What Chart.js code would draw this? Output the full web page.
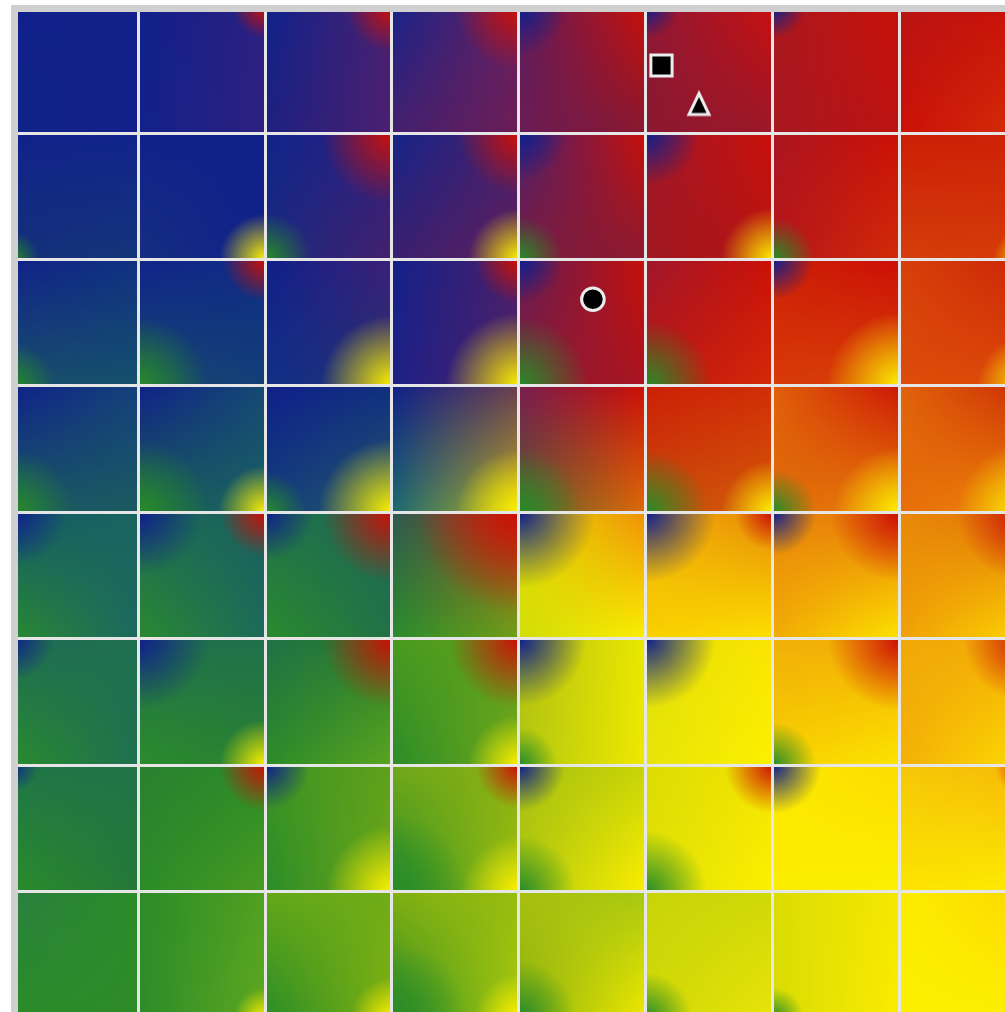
<!DOCTYPE html>
<html>
<head>
<meta charset="utf-8">
<style>
  html, body { margin: 0; padding: 0; background: #fff; overflow: hidden; }
  canvas { display: block; }
</style>
<script src="https://cdn.jsdelivr.net/npm/chart.js@4"></script>
</head>
<body>
<canvas id="chart" width="1005" height="1012"></canvas>
<script>
// colour of each tile at its four corners, one string per row of tiles
const cornerTL = [
  '10208a 10208a 10228a 1a2388 5a1c60 8c1838 a81820 b81414',
  '10228a 10218a 102488 162488 4a2070 a0182c aa1620 cc1e06',
  '10228a 10258a 102088 14208a 601c58 a0182c cc2006 d6400a',
  '10228a 10228a 10208a 10208a 7a1c50 cc2006 e0600a e0640a',
  '145a68 1c6a56 20704c 2a5a50 e8e000 f0b008 e8860a e88808',
  '1e6a55 20704c 227048 4a9a20 b8c010 e0e008 f0b008 f0a808',
  '1f7448 2a8030 3c9424 70a81a a8c010 dcdc04 fce800 f4c808',
  '2a8040 2c8c28 64a818 80b010 a8c010 c8d408 dcdc04 fcec00'
];
const cornerTR = [
  '14208a 2c2080 4a2070 6a2060 c81008 c81010 c81008 cc1006',
  '10248a 10228a 302080 4a206a c81008 c81008 cc1006 cc2206',
  '103280 102c84 3c2078 4a2068 c81008 cc1006 cc1006 cc2406',
  '14427a 154a72 103080 6a4050 cc1006 d02e06 cc1806 cc2c06',
  '1a6460 1a6060 1e6a55 a84a18 f09008 e88a08 e87808 e07008',
  '1f7050 20704c 2a8028 60a01a e8e800 fce400 f4ac04 f4aa06',
  '207448 2a8c28 60a01a 8ab010 c8d408 f4e400 fcdc00 f8b808',
  '2a8c28 50a020 70ac18 98bc10 a8c810 d0d808 f4e800 fcd800'
];
const cornerBL = [
  '102488 12228a 1e2080 44206f 6a1c55 8c1830 a81820 cc1008',
  '14307a 152f80 1a2a80 3a206f 7a1c40 a01820 b8141a d43e0a',
  '1a4f6a 16476e 103088 1e2085 8a1c38 be1410 d83a08 dc4c0a',
  '1a5a62 1a6055 12407a 1a6a70 5a6030 c84c0c e06c0a e86e0a',
  '2a8a30 2a8a30 2a8c2c 2a8c2c d0dc08 f8d000 f2aa06 f0a008',
  '2a8c2c 2a8c2c 2a8c28 2a8c28 b0c810 e8e408 f8d000 f4b008',
  '2a8c2a 2a8c28 2a8c28 2a8c28 b0c810 e0e008 fcec00 fce400',
  '2a8c28 2a8c28 2a8c28 308c28 8ab010 d0d808 d8dc04 fcf000'
];
const cornerBR = [
  '14208a 2e2080 4c2070 6c1d55 881830 9a1828 bc1212 d43008',
  '14357a 10208a 44206c 5e1e5c 8c1a30 b41414 d02c08 d63a08',
  '14506c 123f78 283070 4e206a a81420 d42a08 d84008 dc4a08',
  '1a5a60 186062 285868 c0b020 e06a08 d45a08 e88008 ec8a08',
  '1c6860 1c6a5a 227048 70a018 fcf000 fce000 fce400 fcd800',
  '1e7050 2a8030 5ca420 70a81a f0e800 fcf000 fce400 fcdc00',
  '247838 4a9a20 70a818 a0c010 fcee00 fcf000 fcf000 fcec00',
  '2e8c28 60a820 80b010 a8c80c f0e800 e8e408 fcec00 fcf000'
];

// how far each corner colour reaches into the tile, percent of the tile side
const blueReach = [
  [0, 0, 0, 0, 38, 25, 25, 0],
  [0, 0, 0, 0, 38, 42, 0, 0],
  [0, 0, 0, 0, 34, 0, 32, 0],
  [0, 0, 0, 0, 0, 0, 0, 0],
  [43, 50, 38, 0, 60, 55, 34, 0],
  [33, 56, 0, 0, 53, 55, 0, 0],
  [21, 0, 35, 0, 36, 0, 38, 0],
  [0, 0, 0, 0, 0, 0, 0, 0]
];
const redReach = [
  [0, 25, 36, 50, 0, 0, 0, 0],
  [0, 0, 56, 48, 0, 0, 0, 0],
  [0, 33, 0, 35, 0, 0, 0, 0],
  [0, 0, 0, 0, 0, 0, 0, 0],
  [0, 35, 55, 80, 0, 30, 55, 55],
  [0, 0, 55, 55, 0, 0, 57, 50],
  [0, 36, 0, 34, 0, 38, 0, 25],
  [0, 0, 0, 0, 0, 0, 0, 0]
];
const greenReach = [
  [0, 0, 0, 0, 0, 0, 0, 0],
  [22, 0, 37, 0, 34, 0, 33, 0],
  [34, 55, 0, 0, 55, 52, 0, 0],
  [49, 56, 32, 0, 50, 49, 34, 0],
  [0, 0, 0, 0, 0, 0, 0, 0],
  [0, 0, 0, 0, 30, 0, 34, 0],
  [0, 0, 0, 60, 45, 48, 0, 0],
  [0, 0, 0, 60, 45, 36, 24, 0]
];
const yellowReach = [
  [0, 0, 0, 0, 0, 0, 0, 0],
  [0, 36, 0, 40, 0, 41, 0, 26],
  [0, 0, 56, 58, 0, 0, 58, 39],
  [0, 37, 58, 50, 0, 41, 52, 55],
  [0, 0, 0, 0, 0, 0, 0, 0],
  [0, 36, 0, 40, 0, 0, 0, 0],
  [0, 0, 52, 45, 0, 0, 0, 0],
  [0, 24, 32, 35, 0, 0, 0, 0]
];

const gridLines = [1, 2, 3, 4, 5, 6, 7];
const markerX = [4.582, 5.122, 5.417];
const markerY = [2.315, 0.466, 0.774];

const BLUE = [16, 32, 140], RED = [204, 16, 6], GREEN = [40, 140, 40], YELLOW = [252, 240, 0];

function hexRows(rows) {
  return rows.map(r => r.split(' ').map(h => [0, 2, 4].map(i => parseInt(h.substr(i, 2), 16))));
}
const tl = hexRows(cornerTL), tr = hexRows(cornerTR), bl = hexRows(cornerBL), br = hexRows(cornerBR);

// one canvas per tile, corners mixed then corner colours faded over them
function paintTile(col, row, w, h) {
  const c = document.createElement('canvas');
  c.width = w;
  c.height = h;
  const g = c.getContext('2d');
  const img = g.createImageData(w, h);
  const glows = [
    [BLUE, blueReach[row][col], 0, 0],
    [RED, redReach[row][col], 1, 0],
    [GREEN, greenReach[row][col], 0, 1],
    [YELLOW, yellowReach[row][col], 1, 1]
  ];
  for (let y = 0; y < h; y++) {
    const v = y / (h - 1);
    for (let x = 0; x < w; x++) {
      const u = x / (w - 1);
      const px = [0, 1, 2].map(i =>
        (tl[row][col][i] * (1 - u) + tr[row][col][i] * u) * (1 - v) +
        (bl[row][col][i] * (1 - u) + br[row][col][i] * u) * v);
      glows.forEach(([colour, reach, cx, cy]) => {
        if (!reach) return;
        const d = Math.hypot(u - cx, v - cy) * 100 / reach;
        if (d >= 1) return;
        const a = 1 - d;
        for (let i = 0; i < 3; i++) px[i] = px[i] * (1 - a) + colour[i] * a;
      });
      const o = (y * w + x) * 4;
      img.data[o] = px[0];
      img.data[o + 1] = px[1];
      img.data[o + 2] = px[2];
      img.data[o + 3] = 255;
    }
  }
  g.putImageData(img, 0, 0);
  return c;
}

const tilePoints = [];
for (let row = 0; row < 8; row++) {
  for (let col = 0; col < 8; col++) tilePoints.push({ x: col + 0.5, y: row + 0.5, col, row });
}
const tileCache = new Map();

function tileStyle(ctx) {
  const p = ctx.raw;
  if (!p) return 'rect';
  const key = p.col + '_' + p.row;
  if (!tileCache.has(key)) {
    const { x, y } = ctx.chart.scales;
    const w = Math.ceil(Math.abs(x.getPixelForValue(1) - x.getPixelForValue(0)));
    const h = Math.ceil(Math.abs(y.getPixelForValue(1) - y.getPixelForValue(0)));
    // scales have no size yet during the first layout pass
    if (!w || !h) return 'rect';
    tileCache.set(key, paintTile(p.col, p.row, w, h));
  }
  return tileCache.get(key);
}

// narrow triangle, chart.js own triangle is equilateral
function triangleMarker() {
  const c = document.createElement('canvas');
  c.width = 32;
  c.height = 32;
  const g = c.getContext('2d');
  g.beginPath();
  g.moveTo(16, 5);
  g.lineTo(26, 26);
  g.lineTo(6, 26);
  g.closePath();
  g.fillStyle = '#000';
  g.fill();
  g.lineWidth = 3;
  g.strokeStyle = '#ececec';
  g.lineJoin = 'miter';
  g.stroke();
  return c;
}

const frame = {
  id: 'frame',
  beforeDraw(chart) {
    const c = chart.ctx;
    c.save();
    c.fillStyle = '#fff';
    c.fillRect(0, 0, chart.width, chart.height);
    c.fillStyle = '#d0d0d0';
    c.fillRect(11, 5, chart.width, chart.height);
    c.restore();
  }
};

const setGridTicks = axis => { axis.ticks = gridLines.map(value => ({ value })); };
const gridAxis = {
  type: 'linear',
  afterBuildTicks: setGridTicks,
  border: { display: false },
  grid: { color: '#e6e6e6', lineWidth: 3, drawTicks: false, z: 1 },
  ticks: { display: false }
};

new Chart(document.getElementById('chart'), {
  type: 'scatter',
  data: {
    datasets: [
      {
        label: 'markers',
        data: markerX.map((x, i) => ({ x, y: markerY[i] })),
        pointStyle: ['circle', 'rect', triangleMarker()],
        pointRadius: [11.3, 15, 12],
        pointBackgroundColor: '#000',
        pointBorderColor: '#ececec',
        pointBorderWidth: 3,
        order: 0
      },
      {
        label: 'tiles',
        data: tilePoints,
        pointStyle: tileStyle,
        pointRadius: 1,
        order: 1
      }
    ]
  },
  options: {
    responsive: false,
    devicePixelRatio: 1,
    animation: false,
    events: [],
    layout: { autoPadding: false, padding: { left: 18, top: 12, right: 0, bottom: 0 } },
    plugins: { legend: { display: false }, title: { display: false }, tooltip: { enabled: false } },
    scales: {
      x: { ...gridAxis, min: 0.055, max: 7.827 },
      y: { ...gridAxis, min: 0.043, max: 7.951, reverse: true }
    }
  },
  plugins: [frame]
});
</script>
</body>
</html>
